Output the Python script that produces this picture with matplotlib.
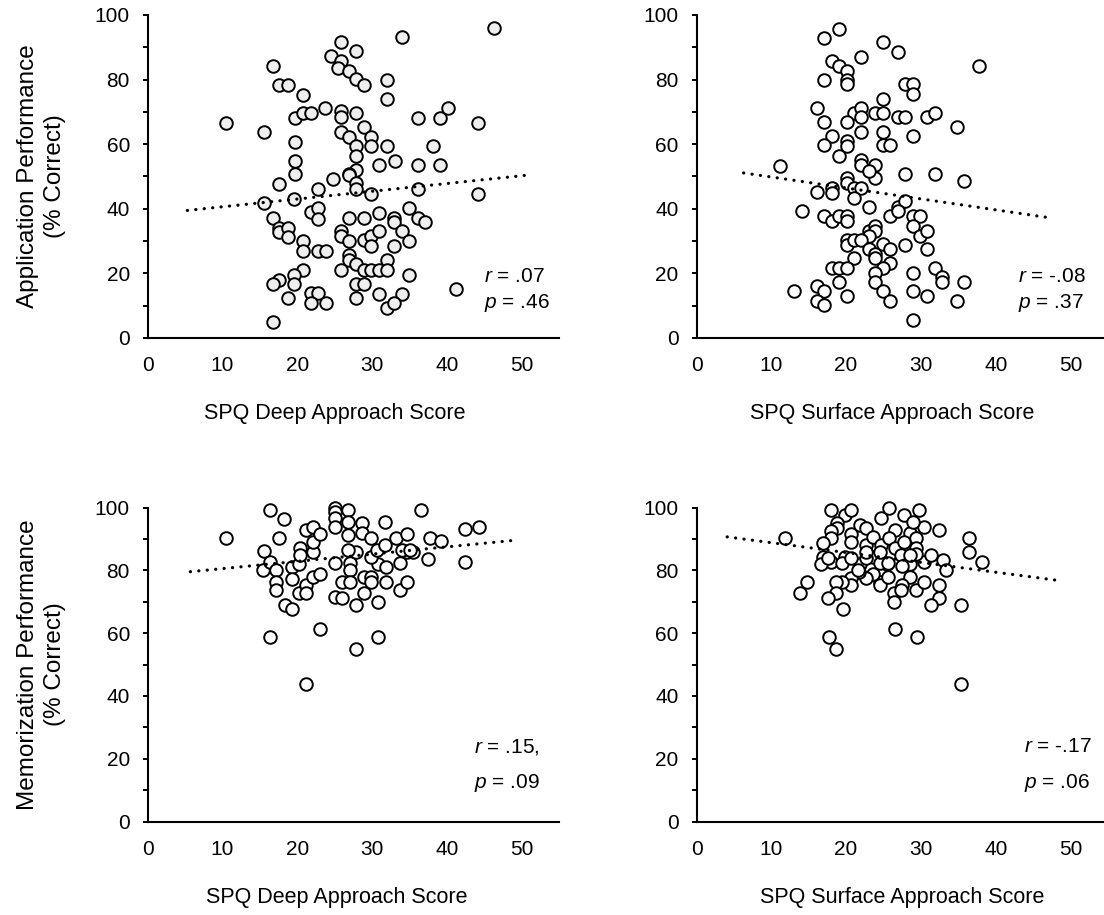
import matplotlib
matplotlib.use("Agg")
import matplotlib.pyplot as plt
from matplotlib.ticker import MultipleLocator

plt.rcParams['font.family'] = ['Liberation Sans', 'DejaVu Sans']
plt.rcParams['mathtext.fontset'] = 'custom'
plt.rcParams['mathtext.it'] = 'Liberation Sans:italic'
plt.rcParams['mathtext.rm'] = 'Liberation Sans'

# ---------------- data ----------------
# Panel A: SPQ Deep vs Application performance
deep_app_x = [10.5, 15.6, 16.7, 17.6, 18.7, 20.7, 19.7, 20.8, 21.8, 23.7, 19.7, 19.7, 19.7, 24.5,
              46.3, 34.0, 25.8, 27.8, 25.8, 25.5, 26.9, 27.9, 28.9, 32.0, 32.0,
              25.8, 25.8, 27.9, 36.1, 39.1, 40.1, 44.2, 28.9, 25.8, 26.9, 29.9, 27.9, 29.9, 32.0, 38.1,
              27.9, 27.9, 26.9, 30.9, 33.0, 36.1, 39.1, 24.8,
              17.6, 15.6, 19.6, 22.8, 21.8, 22.8, 22.8, 16.7, 17.6, 17.6, 18.7, 18.7, 20.7, 20.7,
              22.8, 23.8, 20.7, 17.6, 16.7, 19.6, 19.6, 18.7, 21.8, 22.8, 21.8, 23.8, 16.7,
              26.9, 27.9, 27.9, 29.9, 36.1, 44.2,
              26.9, 28.9, 30.9, 32.9, 32.9, 35.0, 36.1, 37.1,
              25.8, 25.8, 26.9, 28.9, 29.9, 30.9, 29.9, 32.9, 34.0, 35.0,
              26.9, 26.9, 27.9, 28.9, 29.9, 30.9, 32.0, 32.0, 25.8, 35.0,
              27.9, 28.9, 27.9, 30.9, 34.0, 32.0, 32.9, 41.2]
deep_app_y = [66.6, 63.8, 84.3, 78.2, 78.2, 75.3, 68.1, 69.7, 69.7, 71.2, 60.7, 54.9, 50.9, 87.3,
              96.0, 93.2, 91.7, 88.7, 85.8, 83.5, 82.8, 80.1, 78.3, 80.0, 74.1,
              70.2, 68.3, 69.7, 68.1, 68.1, 71.1, 66.7, 65.3, 63.8, 62.3, 62.3, 59.3, 59.3, 59.3, 59.3,
              56.2, 52.1, 50.9, 53.5, 54.9, 53.5, 53.5, 49.3,
              47.7, 41.8, 43.1, 46.0, 38.9, 40.2, 36.9, 37.2, 34.1, 32.7, 34.1, 31.3, 30.0, 26.9,
              26.9, 26.9, 21.2, 18.1, 16.7, 19.6, 16.7, 12.4, 13.9, 13.9, 10.8, 10.8, 5.0,
              50.6, 48.0, 46.0, 44.6, 46.0, 44.6,
              37.3, 37.3, 38.7, 37.3, 35.8, 40.2, 37.3, 35.8,
              33.0, 31.6, 30.0, 30.2, 31.6, 33.0, 28.4, 28.4, 33.0, 30.0,
              25.6, 24.0, 22.8, 21.2, 21.2, 21.2, 24.3, 21.2, 21.2, 19.6,
              16.6, 16.6, 12.4, 13.7, 13.7, 9.3, 10.8, 15.3]

# Panel B: SPQ Surface vs Application performance
surf_app_x = [19.1, 17.1, 24.9, 26.9, 22.0, 18.1, 19.1, 20.1, 20.1, 20.1, 17.1, 37.8, 27.9, 28.9, 28.9,
              24.9, 16.1, 21.0, 22.0, 22.0, 23.9, 24.9, 26.9, 27.9, 30.8, 31.9, 17.1, 20.1, 34.8,
              22.0, 24.9, 18.1, 17.1, 20.1, 20.1, 28.9, 24.9, 25.9, 19.1, 22.0, 22.0, 23.9, 11.2,
              27.9, 31.9, 20.1, 23.9, 35.7,
              20.1, 21.0, 22.0, 21.0, 23.0, 16.1, 18.1, 18.1, 14.1, 17.1, 18.1, 19.1, 20.1, 20.1,
              23.0, 25.9, 26.9, 27.9, 26.9, 28.9, 29.9, 28.9, 29.9, 30.8, 30.8, 23.0, 23.9, 23.9,
              23.0, 20.1, 20.1, 21.0, 22.0, 23.0, 23.9, 23.9, 24.9, 25.9, 25.9, 24.9, 27.9, 21.0,
              18.1, 19.1, 20.1, 23.9, 23.9, 24.9, 28.9, 31.9, 32.8, 32.8, 35.7, 19.1, 13.1, 16.1,
              17.1, 16.1, 17.1, 20.1, 25.9, 28.9, 30.8, 34.8, 28.9]
surf_app_y = [95.8, 92.9, 91.5, 88.5, 87.0, 85.8, 84.3, 82.8, 80.0, 78.5, 80.0, 84.2, 78.5, 78.5, 75.4,
              74.1, 71.2, 69.7, 71.2, 68.3, 69.7, 69.7, 68.3, 68.3, 68.3, 69.7, 66.9, 66.9, 65.3,
              63.8, 63.8, 62.4, 59.6, 60.9, 59.4, 62.4, 59.6, 59.6, 56.5, 55.2, 53.7, 53.7, 53.2,
              50.9, 50.9, 49.5, 49.5, 48.5,
              48.0, 46.4, 46.4, 43.3, 51.6, 45.1, 46.4, 44.9, 39.2, 37.7, 36.1, 37.7, 37.7, 36.1,
              40.6, 37.7, 40.6, 42.3, 39.2, 37.7, 37.7, 34.6, 31.7, 33.2, 27.4, 33.2, 34.6, 33.2,
              31.5, 30.4, 28.9, 30.4, 30.4, 27.6, 26.0, 24.8, 29.1, 27.6, 23.2, 21.7, 28.9, 24.8,
              21.7, 21.7, 21.7, 20.1, 17.3, 14.4, 20.1, 21.7, 18.8, 17.3, 17.3, 17.3, 14.4, 16.0,
              14.4, 11.5, 10.1, 13.0, 11.4, 14.4, 13.0, 11.4, 5.7]

# Panel C: SPQ Deep vs Memorization performance
deep_mem_x = [42.4, 37.5, 15.5, 15.4, 16.4, 17.2, 17.2, 17.2, 18.4, 19.3, 19.3, 19.3, 20.2, 20.2,
              21.2, 21.2, 22.1, 23.0, 22.1,
              25.0, 25.0, 26.0, 26.0, 27.0, 27.0, 27.0, 27.9, 28.9, 28.9, 29.9, 29.9, 30.8, 31.8,
              33.7, 34.7, 33.7, 34.6, 35.5, 30.8, 31.8, 29.8, 27.9,
              16.4, 23.0, 30.8, 27.9, 21.2,
              10.5, 16.3, 18.2, 17.5, 20.3, 20.3, 21.2, 22.1, 22.1, 23.1, 25.0, 25.0, 25.0, 25.0,
              26.8, 26.8, 26.8, 28.7, 28.7, 31.7, 29.9, 30.6, 31.7, 33.2, 34.7, 34.0, 36.6, 37.7,
              39.2, 42.4, 44.3, 35.1, 26.8]
deep_mem_y = [82.6, 83.8, 86.2, 80.1, 82.7, 80.1, 76.4, 73.9, 68.9, 67.6, 81.1, 77.4, 82.2, 72.7,
              75.3, 72.7, 78.0, 78.8, 85.9,
              82.4, 71.4, 76.4, 71.1, 82.4, 80.1, 76.4, 68.9, 78.0, 72.7, 78.0, 76.4, 70.0, 76.4,
              73.9, 76.4, 82.4, 85.9, 85.9, 82.2, 81.1, 84.3, 85.9,
              58.7, 61.2, 58.7, 54.9, 43.7,
              90.4, 99.2, 96.3, 90.4, 87.0, 84.9, 92.8, 93.9, 89.1, 91.5, 99.8, 98.7, 96.6, 93.9,
              99.2, 95.5, 91.2, 95.0, 91.8, 95.5, 90.2, 86.5, 88.1, 90.4, 91.5, 86.5, 99.2, 90.4,
              89.3, 93.2, 93.9, 86.5, 86.5]

# Panel D: SPQ Surface vs Memorization performance
surf_mem_x = [11.8, 18.0, 19.9, 20.6, 18.8, 18.8, 18.0, 18.0, 16.9, 20.6, 20.6, 21.8, 22.7, 22.7,
              24.6, 25.7, 26.6, 27.8, 28.5, 29.7, 30.4, 32.4, 28.9, 23.6, 24.6, 25.7, 26.6, 27.8,
              29.3, 29.3, 36.4, 36.4, 38.2, 33.0, 16.9, 18.0, 19.9, 21.8, 23.6, 25.5, 27.4, 28.5,
              30.4, 33.4, 31.4, 29.3, 28.5,
              27.5, 28.5, 27.5, 29.3, 30.4, 32.4, 32.4, 31.4, 35.3, 26.4, 26.4, 27.4, 24.5, 24.5,
              25.6, 23.6, 22.7, 21.7, 20.7, 20.7, 19.5, 18.6, 18.6, 17.6, 19.6, 14.8, 13.8, 16.7,
              17.6, 19.5, 20.7, 22.6, 24.5, 25.6, 24.5, 22.7, 21.6,
              17.7, 18.7, 26.5, 29.5, 35.3]
surf_mem_y = [90.2, 99.2, 97.6, 99.2, 95.0, 93.4, 92.5, 90.4, 88.6, 91.5, 89.1, 94.4, 93.4, 88.1,
              96.6, 99.9, 92.8, 97.6, 91.8, 99.2, 93.9, 92.8, 95.5, 90.7, 88.1, 90.2, 87.0, 89.1,
              90.2, 87.0, 90.4, 85.9, 82.8, 83.3, 84.3, 82.7, 84.3, 82.2, 84.3, 82.2, 84.9, 82.2,
              82.7, 80.1, 84.9, 85.4, 84.9,
              81.4, 78.0, 75.3, 73.9, 76.4, 75.3, 71.3, 68.9, 68.9, 72.7, 70.0, 73.7, 76.4, 75.3,
              78.0, 79.0, 77.5, 79.6, 77.5, 75.3, 76.4, 76.4, 72.7, 71.3, 67.6, 76.4, 72.7, 82.2,
              84.1, 82.4, 84.1, 84.1, 82.4, 82.4, 85.9, 85.9, 80.1,
              58.7, 54.9, 61.2, 58.7, 43.7]

# Trend lines (end points)
trend_deep_app_x = [5.3, 50.7]
trend_deep_app_y = [39.5, 50.4]
trend_surf_app_x = [6.3, 47.0]
trend_surf_app_y = [51.1, 37.3]
trend_deep_mem_x = [5.7, 49.0]
trend_deep_mem_y = [79.6, 89.6]
trend_surf_mem_x = [4.1, 48.1]
trend_surf_mem_y = [90.7, 76.9]

stats_deep_app = ["$\\mathit{r}$ = .07", "$\\mathit{p}$ = .46"]
stats_surf_app = ["$\\mathit{r}$ = -.08", "$\\mathit{p}$ = .37"]
stats_deep_mem = ["$\\mathit{r}$ = .15,", "$\\mathit{p}$ = .09"]
stats_surf_mem = ["$\\mathit{r}$ = -.17", "$\\mathit{p}$ = .06"]

x_ticks = [0, 10, 20, 30, 40, 50]
xlabel_deep = "SPQ Deep Approach Score"
xlabel_surf = "SPQ Surface Approach Score"
ylabel_app = "Application Performance\n(% Correct)"
ylabel_mem = "Memorization Performance\n(% Correct)"

# ---------------- figure ----------------
fig = plt.figure(figsize=(11.04, 9.15), dpi=100)
W = 411.4 / 1104
L_left = 147.7 / 1104
L_right = 696.5 / 1104
top_b, top_h = 1 - 338 / 915, 323 / 915
bot_b, bot_h = 1 - 821.5 / 915, 313.8 / 915

panels = [
    (L_left, top_b, top_h, deep_app_x, deep_app_y, trend_deep_app_x, trend_deep_app_y,
     stats_deep_app, xlabel_deep, ylabel_app, '#efefef', 44.9, (19.0, 10.7), 0.455),
    (L_right, top_b, top_h, surf_app_x, surf_app_y, trend_surf_app_x, trend_surf_app_y,
     stats_surf_app, xlabel_surf, None, 'white', 43.0, (19.0, 10.7), 0.475),
    (L_left, bot_b, bot_h, deep_mem_x, deep_mem_y, trend_deep_mem_x, trend_deep_mem_y,
     stats_deep_mem, xlabel_deep, ylabel_mem, 'white', 43.6, (23.8, 12.2), 0.46),
    (L_right, bot_b, bot_h, surf_mem_x, surf_mem_y, trend_surf_mem_x, trend_surf_mem_y,
     stats_surf_mem, xlabel_surf, None, 'white', 43.8, (23.8, 12.2), 0.50),
]

for (left, bottom, height, xs, ys, tx, ty, stats, xl, yl, fc, tx0, tys, xlx) in panels:
    ax = fig.add_axes([left, bottom, W, height])
    ax.scatter(xs, ys, s=82, facecolor=fc, edgecolor='black', linewidths=1.4, zorder=3,
               clip_on=False)
    ax.plot(tx, ty, color='black', linewidth=2.3, linestyle=(0, (0.05, 2.6)),
            dash_capstyle='round', zorder=4)
    ax.set_xlim(0, 55)
    ax.set_ylim(0, 100)
    ax.set_xticks(x_ticks)
    ax.yaxis.set_major_locator(MultipleLocator(20))
    ax.yaxis.set_minor_locator(MultipleLocator(10))
    for s in ['top', 'right']:
        ax.spines[s].set_visible(False)
    for s in ['left', 'bottom']:
        ax.spines[s].set_linewidth(1.5)
        ax.spines[s].set_color('black')
    ax.tick_params(axis='x', length=0, pad=13, labelsize=15)
    ax.tick_params(axis='y', which='major', direction='out', length=3.8, width=1.4,
                   pad=9, labelsize=15)
    ax.tick_params(axis='y', which='minor', direction='out', length=3.8, width=1.4)
    ax.set_xlabel(xl, fontsize=15.5)
    ax.xaxis.label.set_va('center')
    ax.xaxis.set_label_coords(xlx, -76 / (height * 915))
    if yl:
        ax.set_ylabel(yl, fontsize=17.5, linespacing=1.25)
        ax.yaxis.label.set_va('center')
        ax.yaxis.set_label_coords(-(147.7 - 41.5) / 411.4, 0.5)
    ax.text(tx0, tys[0], stats[0], fontsize=15, ha='left', va='center')
    ax.text(tx0, tys[1], stats[1], fontsize=15, ha='left', va='center')

fig.savefig("out.png", dpi=100)
